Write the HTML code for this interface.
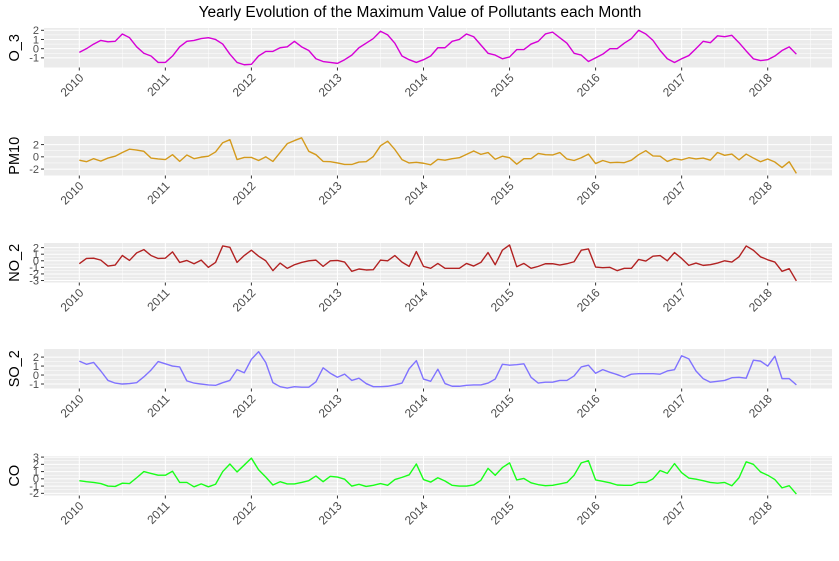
<!DOCTYPE html>
<html><head><meta charset="utf-8"><style>
body{margin:0;background:#fff;}
svg text{font-family:"Liberation Sans",sans-serif;}
</style></head><body>
<svg id="chart" width="839" height="556" xmlns="http://www.w3.org/2000/svg">
<text x="420" y="17" text-anchor="middle" font-size="15.5" fill="#000">Yearly Evolution of the Maximum Value of Pollutants each Month</text>
</svg>
<script>
const years = [2010,2011,2012,2013,2014,2015,2016,2017,2018];
const seriesNames = ["O_3","PM10","NO_2","SO_2","CO"];
const seriesColors = ["#d600d6","#d49a1c","#b22222","#8073ff","#19ff19"];
const o3 = [-0.4,0.0,0.5,0.9,0.75,0.8,1.6,1.2,0.2,-0.5,-0.8,-1.5,
 -1.5,-0.8,0.2,0.8,0.9,1.1,1.2,1.0,0.5,-0.6,-1.5,-1.75,
 -1.7,-0.8,-0.3,-0.3,0.1,0.2,0.8,0.2,-0.2,-1.1,-1.4,-1.5,
 -1.6,-1.2,-0.7,0.1,0.6,1.1,1.9,1.5,0.6,-0.8,-1.2,-1.5,
 -1.2,-0.8,0.1,0.1,0.8,1.0,1.6,1.3,0.4,-0.5,-0.7,-1.1,
 -0.9,-0.1,-0.1,0.5,0.8,1.6,1.8,1.2,0.6,-0.5,-0.7,-1.4,
 -1.0,-0.6,0,0,0.6,1.1,2.0,1.6,0.9,-0.2,-1.1,-1.5,
 -1.1,-0.75,0,0.8,0.65,1.4,1.3,1.45,0.65,-0.25,-1.1,-1.3,
 -1.2,-0.8,-0.2,0.2,-0.6];
const pm10 = [-0.55,-0.8,-0.3,-0.7,-0.2,0.1,0.7,1.25,1.1,0.9,-0.2,-0.35,
 -0.45,0.35,-0.75,0.3,-0.3,-0.05,0.1,0.8,2.3,2.8,-0.45,-0.1,
 -0.1,-0.6,0,-0.75,0.7,2.15,2.65,3.1,0.9,0.35,-0.75,-0.8,
 -1.0,-1.25,-1.25,-0.85,-0.8,0.05,1.8,2.55,1.2,-0.45,-1.0,-0.9,
 -1.05,-1.3,-0.4,-0.55,-0.3,-0.15,0.4,0.95,0.4,0.7,-0.4,0.1,
 -0.15,-1.2,-0.3,-0.3,0.55,0.35,0.3,0.7,-0.35,-0.6,-0.15,0.45,
 -1.1,-0.6,-0.95,-0.9,-0.95,-0.55,0.35,1.0,0.15,0.1,-0.75,-0.3,
 -0.5,-0.15,-0.35,-0.2,-0.55,0.7,0.25,0.45,-0.5,0.45,-0.2,-0.8,
 -0.35,-0.85,-1.75,-0.8,-2.7];
const no2 = [-0.45,0.35,0.4,0.1,-0.8,-0.65,0.8,0.05,1.2,1.7,0.8,0.35,
 0.4,1.35,-0.25,0.05,-0.45,0.1,-1.0,-0.25,2.25,2.05,-0.25,0.8,
 1.6,0.7,0,-1.5,-0.35,-1.15,-0.6,-0.25,0,0.1,-0.85,0,
 0.05,-0.2,-1.6,-1.25,-1.4,-1.35,0.1,0,0.8,-0.2,-0.85,1.4,
 -0.85,-1.15,-0.4,-1.15,-1.15,-1.15,-0.4,-0.8,-0.25,1.25,-0.6,1.6,
 2.4,-0.9,-0.4,-1.15,-0.85,-0.45,-0.45,-0.65,-0.45,-0.15,1.6,1.8,
 -0.95,-1.05,-1.0,-1.5,-1.15,-1.15,0.2,-0.05,0.7,0.8,0,1.25,
 0.35,-0.7,-0.35,-0.7,-0.6,-0.35,0,-0.2,0.6,2.25,1.6,0.6,
 0.15,-0.2,-1.6,-1.2,-3.05];
const so2 = [1.55,1.2,1.4,0.45,-0.6,-0.9,-1.0,-0.95,-0.85,-0.2,0.55,1.5,
 1.25,1.0,0.9,-0.65,-0.9,-1.0,-1.1,-1.15,-0.85,-0.6,0.6,0.25,
 1.75,2.6,1.4,-0.85,-1.3,-1.45,-1.3,-1.35,-1.35,-0.75,0.8,0.2,
 -0.25,0.1,-0.6,-0.35,-0.95,-1.3,-1.3,-1.25,-1.1,-0.9,0.7,1.6,
 -0.45,-0.7,0.65,-0.95,-1.25,-1.25,-1.15,-1.1,-1.1,-0.9,-0.45,1.2,
 1.1,1.15,1.25,-0.25,-0.9,-0.8,-0.8,-0.6,-0.6,-0.1,0.9,1.1,
 0.2,0.6,0.3,0.05,-0.25,0.1,0.15,0.15,0.15,0.1,0.45,0.6,
 2.15,1.8,0.45,-0.4,-0.8,-0.7,-0.6,-0.3,-0.25,-0.35,1.65,1.55,
 1.0,2.1,-0.4,-0.4,-1.1];
const co = [-0.25,-0.4,-0.5,-0.65,-1.0,-1.05,-0.6,-0.65,0.15,1.0,0.75,0.5,
 0.5,1.05,-0.5,-0.5,-1.1,-0.7,-1.1,-0.75,1.0,2.05,0.95,1.9,
 2.85,1.25,0.25,-0.85,-0.4,-0.7,-0.7,-0.5,-0.25,0.4,-0.4,0.35,
 0.25,-0.05,-1.0,-0.75,-1.05,-0.9,-0.65,-0.9,-0.1,0.2,0.55,2.05,
 -0.1,-0.45,0.15,-0.3,-0.9,-1.0,-1.0,-0.85,-0.2,1.45,0.5,1.55,
 2.2,-0.15,0.05,-0.55,-0.8,-0.95,-0.9,-0.7,-0.5,0.5,2.2,2.5,
 -0.15,-0.35,-0.55,-0.85,-0.9,-0.9,-0.5,-0.5,0,1.15,0.75,2.1,
 0.85,0.1,-0.05,-0.25,-0.5,-0.6,-0.5,-0.95,0.15,2.35,2.0,0.95,
 0.5,-0.1,-1.25,-0.95,-2.1];
const seriesValues = [o3, pm10, no2, so2, co];
const yTicks = [[-1,0,1,2],[-2,0,2],[-3,-2,-1,0,1,2],[-1,0,1,2],[-2,-1,0,1,2,3]];
const yDomains = [[-2.05,2.25],[-3.05,3.4],[-3.3,2.7],[-1.5,2.9],[-2.3,3.15]];

const NS = "http://www.w3.org/2000/svg";
const svg = document.getElementById('chart');
const X0 = 44, X1 = 832;
const panelTops = [28,136,243,349,456];
const PH = 39.5;
function xScale(m){ return 79.3 + m*86.05/12; }
function mk(tag, attrs, parent){ const e=document.createElementNS(NS,tag); for(const k in attrs) e.setAttribute(k,attrs[k]); (parent||svg).appendChild(e); return e; }

seriesNames.forEach((name, p) => {
  const top = panelTops[p], bot = top + PH;
  const [d0,d1] = yDomains[p];
  const yScale = v => bot - (v - d0)/(d1 - d0)*PH;
  const g = mk('g',{});
  
  
  const bg = mk('rect',{x:X0,y:top,width:X1-X0,height:PH,fill:'#ebebeb'},g);
  
  
  const ticks = yTicks[p];
  for (let i=0;i<ticks.length-1;i++){
    const y = yScale((ticks[i]+ticks[i+1])/2);
    mk('line',{x1:X0,x2:X1,y1:y,y2:y,stroke:'#fff','stroke-width':0.5},g);
  }
  for (let yr=-1; yr<9; yr++){
    const x = xScale(yr*12+6);
    if (x>X0 && x<X1) mk('line',{x1:x,x2:x,y1:top,y2:bot,stroke:'#fff','stroke-width':0.5},g);
  }
  ticks.forEach(t => {
    const y = yScale(t);
    mk('line',{x1:X0,x2:X1,y1:y,y2:y,stroke:'#fff','stroke-width':1},g);
    mk('line',{x1:X0-3,x2:X0,y1:y,y2:y,stroke:'#333','stroke-width':1},g);
    const tl = mk('text',{x:X0-5,y:y+3.8,'text-anchor':'end','font-size':11,fill:'#4d4d4d'},g);
    tl.textContent = t;
    
    
  });
  years.forEach((yr,i) => {
    const x = xScale(i*12);
    mk('line',{x1:x,x2:x,y1:top,y2:bot,stroke:'#fff','stroke-width':1},g);
    mk('line',{x1:x,x2:x,y1:bot,y2:bot+3,stroke:'#333','stroke-width':1},g);
    const tx = x+5, ty = bot+11;
    const xl = mk('text',{x:tx,y:ty,'text-anchor':'end','font-size':12,fill:'#4d4d4d',transform:`rotate(-45 ${tx} ${ty})`},g);
    xl.textContent = yr;
    
    
  });
  const vals = seriesValues[p];
  const pts = vals.map((v,i)=> xScale(i).toFixed(2)+','+yScale(v).toFixed(2)).join(' ');
  const line = mk('polyline',{points:pts,fill:'none',stroke:seriesColors[p],'stroke-width':1.4,'stroke-linejoin':'round'},g);
  
  
  const cy = top + PH/2;
  const lab = mk('text',{x:19,y:cy,'text-anchor':'middle','font-size':14.5,fill:'#000',transform:`rotate(-90 19 ${cy})`},g);
  lab.textContent = name;
  
  
});
</script>
</body></html>
